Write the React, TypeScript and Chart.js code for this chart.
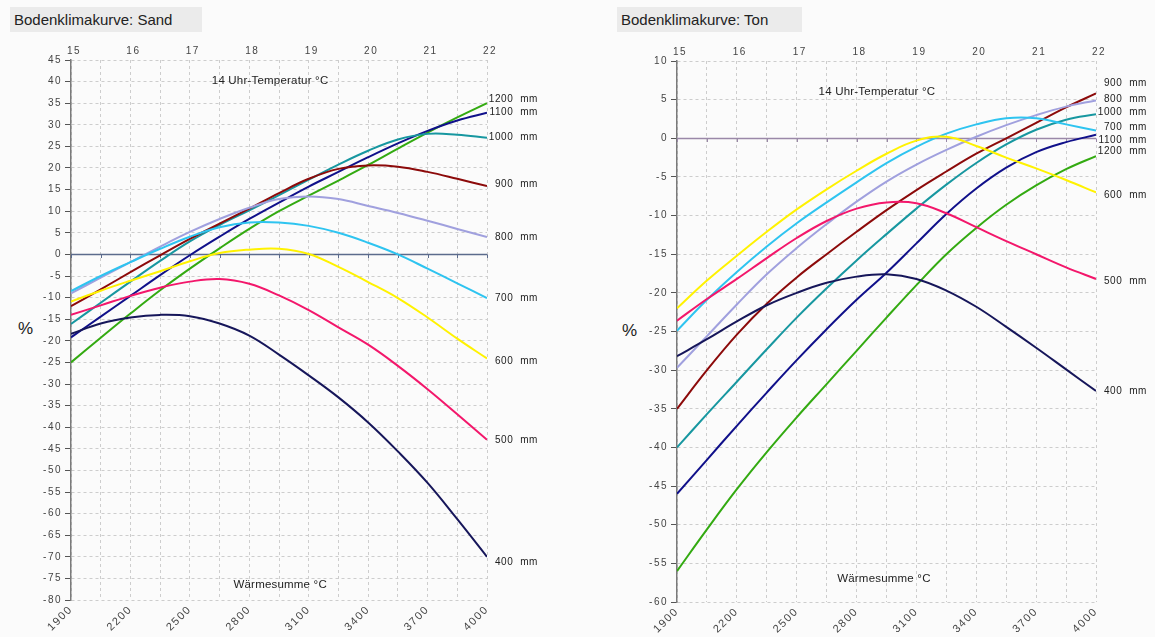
import React, { useEffect, useRef } from 'react';
import { Chart, registerables } from 'chart.js';

Chart.register(...registerables);

const FONT = '"Liberation Sans", Arial, Helvetica, sans-serif';

// Wärmesumme °C (x values of every curve point)
const waermeSumme = [1900, 2050, 2200, 2350, 2500, 2650, 2800, 2950, 3100, 3250, 3400, 3550, 3700, 3850, 4000];
const waermeTickValues = [1900, 2200, 2500, 2800, 3100, 3400, 3700, 4000];
const waermeTickLabels = ['1900', '2200', '2500', '2800', '3100', '3400', '3700', '4000'];
const tempTickLabels = ['15', '16', '17', '18', '19', '20', '21', '22'];

const niederschlag = ['400 mm', '500 mm', '600 mm', '700 mm', '800 mm', '900 mm', '1000 mm', '1100 mm', '1200 mm'];
const seriesColors = ['#16165a', '#f3176b', '#fff200', '#2ec4f0', '#a0a0de', '#8c0a0a', '#1797a0', '#10108a', '#33aa11'];

// Bodenklimakurve: Sand (%)
const sand400 = [-18.4, -16.0, -14.6, -14.0, -14.3, -16.0, -18.8, -23.2, -28.0, -33.1, -38.9, -45.6, -52.9, -61.3, -70.0];
const sand500 = [-14.0, -11.8, -9.6, -7.7, -6.3, -5.7, -6.8, -9.5, -12.9, -16.9, -20.9, -25.8, -31.2, -37.0, -42.9];
const sand600 = [-10.9, -8.4, -6.1, -3.9, -1.6, 0.3, 1.1, 1.3, 0.1, -2.9, -6.4, -10.1, -14.6, -19.5, -24.1];
const sand700 = [-8.5, -5.0, -1.8, 1.3, 4.1, 6.3, 7.4, 7.4, 6.6, 5.0, 2.7, 0.0, -3.3, -6.7, -10.1];
const sand800 = [-9.0, -5.4, -1.8, 1.8, 5.2, 8.2, 10.8, 12.8, 13.4, 12.8, 11.2, 9.6, 7.8, 5.9, 4.0];
const sand900 = [-12.0, -8.1, -4.1, -0.2, 3.6, 7.1, 10.6, 14.2, 17.5, 19.8, 20.6, 20.3, 19.1, 17.5, 15.8];
const sand1000 = [-16.1, -11.2, -6.3, -1.5, 3.0, 6.8, 10.2, 13.7, 17.3, 20.8, 24.0, 26.6, 27.9, 27.7, 27.0];
const sand1100 = [-19.2, -14.4, -9.6, -4.8, -0.2, 4.1, 8.2, 12.0, 15.7, 19.1, 22.5, 25.7, 28.6, 31.0, 32.8];
const sand1200 = [-25.0, -19.3, -13.7, -8.3, -3.3, 1.4, 5.9, 10.0, 13.6, 17.1, 20.7, 24.5, 28.2, 31.7, 35.0];

// Bodenklimakurve: Ton (%)
const ton400 = [-28.2, -26.0, -23.7, -21.6, -20.0, -18.7, -17.9, -17.6, -18.2, -19.7, -21.8, -24.4, -27.1, -29.9, -32.7];
const ton500 = [-23.6, -20.8, -18.2, -15.5, -12.9, -10.7, -9.1, -8.3, -8.4, -9.7, -11.5, -13.3, -15.0, -16.7, -18.2];
const ton600 = [-22.0, -18.4, -15.2, -12.1, -9.2, -6.6, -4.2, -2.0, -0.3, 0.2, -1.0, -2.5, -3.9, -5.4, -7.0];
const ton700 = [-24.9, -20.9, -17.3, -14.0, -11.0, -8.3, -5.7, -3.2, -1.1, 0.6, 1.8, 2.6, 2.6, 1.8, 1.0];
const ton800 = [-29.7, -25.6, -21.5, -17.6, -14.2, -11.1, -8.2, -5.6, -3.4, -1.5, 0.2, 1.7, 3.0, 4.1, 4.9];
const ton900 = [-35.0, -30.0, -25.4, -21.4, -18.0, -15.0, -12.1, -9.3, -6.7, -4.3, -2.0, 0.0, 2.0, 4.0, 5.8];
const ton1000 = [-40.0, -35.7, -31.5, -27.3, -23.2, -19.4, -15.8, -12.4, -9.1, -6.0, -3.2, -0.8, 1.1, 2.4, 3.1];
const ton1100 = [-46.0, -41.6, -37.2, -32.9, -28.7, -24.7, -20.9, -17.4, -13.6, -9.8, -6.5, -3.8, -1.8, -0.5, 0.45];
const ton1200 = [-56.0, -50.6, -45.4, -40.6, -36.1, -31.8, -27.5, -23.2, -19.0, -15.0, -11.6, -8.6, -6.1, -4.0, -2.3];

const sandSeries = [sand400, sand500, sand600, sand700, sand800, sand900, sand1000, sand1100, sand1200];
const tonSeries = [ton400, ton500, ton600, ton700, ton800, ton900, ton1000, ton1100, ton1200];

// pixel nudges of the end labels (to avoid overlaps, as in the original)
const sandLabelNudge = [5, 1, 3, 0, 0, -2, -1, 0, -4];
const tonLabelNudge = [0, 2, 3, -3, -1, -10, -2, 5, -5];

const decorPlugin = {
  id: 'decor',
  beforeDraw(chart: any) {
    chart.ctx.letterSpacing = '1.5px';
  },
  beforeDatasetsDraw(chart: any, _args: any, o: any) {
    const ctx = chart.ctx;
    ctx.letterSpacing = '0px';
    const xs = chart.scales.x;
    const ys = chart.scales.y;
    const y0 = Math.round(ys.getPixelForValue(0)) + 0.5;
    ctx.save();
    ctx.setLineDash([]);
    ctx.strokeStyle = o.zeroColor;
    ctx.lineWidth = 1.5;
    ctx.beginPath();
    ctx.moveTo(chart.chartArea.left, y0);
    ctx.lineTo(chart.chartArea.right, y0);
    ctx.stroke();
    ctx.lineWidth = 1;
    ctx.beginPath();
    waermeSumme.forEach((v) => {
      const x = Math.round(xs.getPixelForValue(v)) + 0.5;
      ctx.moveTo(x, y0);
      ctx.lineTo(x, y0 + 3.5);
    });
    ctx.stroke();
    ctx.restore();
  },
  afterDatasetsDraw(chart: any, _args: any, o: any) {
    const ctx = chart.ctx;
    const xs = chart.scales.x;
    const ys = chart.scales.y;
    const right = chart.chartArea.right;
    ctx.save();
    ctx.fillStyle = '#222';
    ctx.font = `10px ${FONT}`;
    ctx.letterSpacing = '0.6px';
    ctx.textAlign = 'right';
    ctx.textBaseline = 'middle';
    chart.data.datasets.forEach((ds: any, i: number) => {
      const last = ds.data[ds.data.length - 1];
      const [num, unit] = ds.label.split(' ');
      ctx.fillText(`${num}  ${unit}`, right + o.labelGap, ys.getPixelForValue(last.y) + o.nudges[i]);
    });
    ctx.font = `11.5px ${FONT}`;
    ctx.letterSpacing = '0.2px';
    ctx.textAlign = 'center';
    ctx.fillText(o.topTitle, xs.getPixelForValue(o.topTitleAt[0]), ys.getPixelForValue(o.topTitleAt[1]));
    ctx.fillText(o.bottomTitle, xs.getPixelForValue(o.bottomTitleAt[0]), ys.getPixelForValue(o.bottomTitleAt[1]));
    ctx.restore();
  },
};

type PanelProps = {
  left: number;
  width: number;
  height: number;
  values: number[][];
  yMin: number;
  yMax: number;
  axisWidth: number;
  rightPad: number;
  topHeight: number;
  bottomHeight: number;
  zeroColor: string;
  nudges: number[];
  topTitleAt: [number, number];
  bottomTitleAt: [number, number];
};

function Panel(p: PanelProps) {
  const ref = useRef<HTMLCanvasElement>(null);
  useEffect(() => {
    const gridColor = '#cdcdcd';
    const chart = new Chart(ref.current as HTMLCanvasElement, {
      type: 'line',
      data: {
        datasets: p.values.map((vals, i) => ({
          label: niederschlag[i],
          data: vals.map((v, j) => ({ x: waermeSumme[j], y: v })),
          borderColor: seriesColors[i],
          backgroundColor: seriesColors[i],
          borderWidth: 2,
          pointRadius: 0,
          fill: false,
          tension: 0.4,
        })),
      },
      plugins: [decorPlugin],
      options: {
        animation: false,
        responsive: false,
        events: [],
        layout: { padding: { left: 0, right: p.rightPad, top: 0, bottom: 0 } },
        plugins: {
          legend: { display: false },
          tooltip: { enabled: false },
          decor: {
            zeroColor: p.zeroColor,
            nudges: p.nudges,
            labelGap: 51,
            topTitle: '14 Uhr-Temperatur °C',
            bottomTitle: 'Wärmesumme °C',
            topTitleAt: p.topTitleAt,
            bottomTitleAt: p.bottomTitleAt,
          },
        } as any,
        scales: {
          x: {
            type: 'linear',
            position: 'bottom',
            min: 1900,
            max: 4000,
            afterFit: (s: any) => {
              s.height = p.bottomHeight;
            },
            ticks: {
              stepSize: 150,
              autoSkip: false,
              minRotation: 45,
              maxRotation: 45,
              padding: 3,
              color: '#444',
              font: { family: FONT, size: 11 },
              callback: (value: any) => {
                const i = waermeTickValues.indexOf(Number(value));
                return i >= 0 ? waermeTickLabels[i] : '';
              },
            },
            grid: { color: gridColor, lineWidth: 1, drawTicks: false },
            border: { display: false, dash: [3, 3] },
          },
          x2: {
            type: 'linear',
            position: 'top',
            min: 1900,
            max: 4000,
            afterFit: (s: any) => {
              s.height = p.topHeight;
            },
            ticks: {
              stepSize: 300,
              autoSkip: false,
              maxRotation: 0,
              minRotation: 0,
              padding: 3,
              labelOffset: 3,
              color: '#444',
              font: { family: FONT, size: 10 },
              callback: (_v: any, index: number) => tempTickLabels[index],
            },
            grid: { display: false, drawTicks: false, drawOnChartArea: false },
            border: { display: false },
          },
          y: {
            type: 'linear',
            position: 'left',
            min: p.yMin,
            max: p.yMax,
            afterFit: (s: any) => {
              s.width = p.axisWidth;
            },
            ticks: {
              stepSize: 5,
              autoSkip: false,
              padding: 3,
              color: '#444',
              font: { family: FONT, size: 10 },
            },
            grid: {
              color: gridColor,
              lineWidth: 1,
              tickColor: '#555',
              tickLength: 6,
              tickWidth: 1,
              tickBorderDash: [],
            } as any,
            border: { display: true, color: '#7a7a7a', width: 1.5, dash: [3, 3] },
          },
        } as any,
      },
    } as any);
    return () => chart.destroy();
  }, []);
  return (
    <canvas
      ref={ref}
      width={p.width}
      height={p.height}
      style={{ position: 'absolute', left: p.left, top: 0, width: p.width, height: p.height }}
    />
  );
}

const titleStyle: React.CSSProperties = {
  position: 'absolute',
  top: 7,
  height: 25,
  lineHeight: '26px',
  background: '#ebebeb',
  fontFamily: FONT,
  fontSize: 15,
  color: '#222',
  paddingLeft: 4,
  boxSizing: 'border-box',
  whiteSpace: 'nowrap',
};

const percentStyle: React.CSSProperties = {
  position: 'absolute',
  fontFamily: FONT,
  fontSize: 17,
  color: '#222',
  lineHeight: '17px',
};

export default function App() {
  return (
    <div
      style={{
        position: 'fixed',
        left: 0,
        top: 0,
        width: 1155,
        height: 637,
        background: '#fbfbfb',
        overflow: 'hidden',
      }}
    >
      <div style={{ ...titleStyle, left: 10, width: 192 }}>Bodenklimakurve: Sand</div>
      <div style={{ ...titleStyle, left: 617, width: 185 }}>Bodenklimakurve: Ton</div>
      <div style={{ ...percentStyle, left: 18, top: 320 }}>%</div>
      <div style={{ ...percentStyle, left: 622, top: 322 }}>%</div>
      <Panel
        left={0}
        width={578}
        height={637}
        values={sandSeries}
        yMin={-80}
        yMax={45}
        axisWidth={71}
        rightPad={91}
        topHeight={60}
        bottomHeight={37}
        zeroColor="#5b6b8c"
        nudges={sandLabelNudge}
        topTitleAt={[2905, 40.2]}
        bottomTitleAt={[2956, -76.5]}
      />
      <Panel
        left={578}
        width={577}
        height={637}
        values={tonSeries}
        yMin={-60}
        yMax={10}
        axisWidth={99}
        rightPad={59}
        topHeight={61}
        bottomHeight={35}
        zeroColor="#9a88a8"
        nudges={tonLabelNudge}
        topTitleAt={[2902, 6.0]}
        bottomTitleAt={[2937, -57]}
      />
    </div>
  );
}
